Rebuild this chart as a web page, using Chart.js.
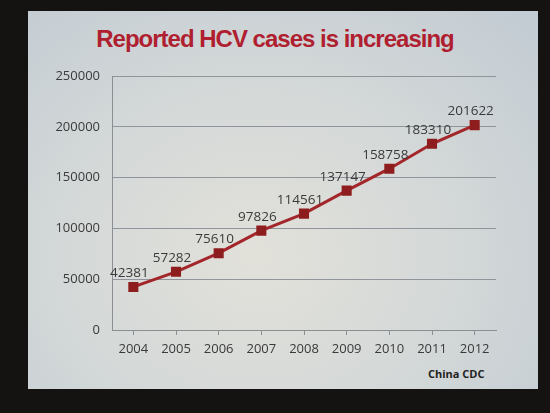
<!DOCTYPE html>
<html>
<head>
<meta charset="utf-8">
<script src="https://cdn.jsdelivr.net/npm/chart.js@4/dist/chart.umd.min.js"></script>
<style>
  html, body { margin: 0; padding: 0; }
  body { width: 550px; height: 413px; background: #141312; position: relative; overflow: hidden; }
  .slide {
    position: absolute; left: 28px; top: 11px; width: 510px; height: 378px;
    background: radial-gradient(ellipse at 45% 65%, #e2e1da 0%, #d5d9d8 45%, #c2cbd3 100%);
  }
  .title {
    position: absolute; left: 10px; width: 530px; top: 25px; text-align: center;
    font-family: "Liberation Sans", Arial, sans-serif; font-weight: bold; font-size: 24px;
    letter-spacing: -1px; color: #b01f30;
  }
  .source {
    position: absolute; left: 428px; top: 366px;
    font-family: "Open Sans", sans-serif; font-weight: bold; font-size: 11px; color: #222;
  }
  canvas { position: absolute; left: 0; top: 0; }
</style>
</head>
<body>
<div class="slide"></div>
<div class="title">Reported HCV cases is increasing</div>
<div class="source">China CDC</div>
<canvas id="hcvChart" width="550" height="413"></canvas>
<script>
const years = ["2004", "2005", "2006", "2007", "2008", "2009", "2010", "2011", "2012"];
const reportedCases = [42381, 57282, 75610, 97826, 114561, 137147, 158758, 183310, 201622];
const yTicks = [0, 50000, 100000, 150000, 200000, 250000];

const pointLabels = {
  id: "pointLabels",
  afterDatasetsDraw(chart) {
    const { ctx } = chart;
    const meta = chart.getDatasetMeta(0);
    ctx.save();
    ctx.font = "13.5px 'Open Sans', sans-serif";
    ctx.fillStyle = "#3a3a3a";
    ctx.textAlign = "center";
    ctx.textBaseline = "bottom";
    meta.data.forEach((pt, i) => {
      ctx.fillText(String(reportedCases[i]), pt.x - 4, pt.y - 7);
    });
    ctx.restore();
  },
};

const ctx = document.getElementById("hcvChart").getContext("2d");
new Chart(ctx, {
  type: "line",
  data: {
    labels: years,
    datasets: [
      {
        data: reportedCases,
        borderColor: "#a3262b",
        borderWidth: 3,
        pointStyle: "rect",
        pointRadius: 5,
        pointBackgroundColor: "#8e1e1e",
        pointBorderColor: "#8e1e1e",
        tension: 0,
      },
    ],
  },
  options: {
    responsive: false,
    animation: false,
    layout: { padding: { left: 28, right: 54, top: 76, bottom: 44 } },
    plugins: { legend: { display: false }, tooltip: { enabled: false } },
    scales: {
      x: {
        offset: true,
        grid: { display: true, drawOnChartArea: false, color: "#8a8f94", tickLength: 5 },
        border: { color: "#8a8f94" },
        ticks: { color: "#3a3a3a", font: { family: "'Open Sans', sans-serif", size: 13 }, padding: 6 },
        afterFit(scale) { scale.height = 39; },
      },
      y: {
        min: 0,
        max: 250000,
        afterBuildTicks(scale) { scale.ticks = yTicks.map((v) => ({ value: v })); },
        grid: { color: "#8f959b", drawTicks: false },
        border: { color: "#8a8f94" },
        ticks: {
          color: "#3a3a3a",
          font: { family: "'Open Sans', sans-serif", size: 13 },
          padding: 12,
          callback: (v) => String(v),
        },
        afterFit(scale) { scale.width = 84; },
      },
    },
  },
  plugins: [pointLabels],
});
</script>
</body>
</html>
